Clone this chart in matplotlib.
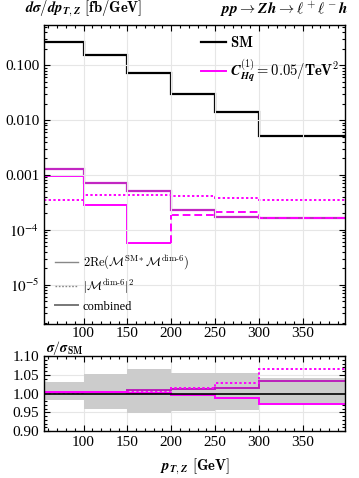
import numpy as np
import matplotlib.pyplot as plt
from matplotlib.lines import Line2D
from matplotlib.ticker import FixedLocator, MultipleLocator, LogLocator, NullFormatter

plt.rcParams['mathtext.fontset'] = 'stix'
plt.rcParams['font.family'] = 'serif'
plt.rcParams['font.serif'] = ['Liberation Serif', 'DejaVu Serif']

# bin edges in pT,Z [GeV]
edges = [55, 100, 150, 200, 250, 300, 400]

# main panel values [fb/GeV]
sm = [0.26, 0.152, 0.072, 0.030, 0.014, 0.0052]
interf_pos = [9.6e-4, 2.8e-4, 5.8e-5]          # bins 1-3 (positive)
interf_neg = [1.9e-4, 2.1e-4, 1.65e-4]          # bins 4-6 (|negative|)
squared = [3.5e-4, 4.25e-4, 4.4e-4, 4.2e-4, 3.86e-4, 3.44e-4]
combined = [1.31e-3, 7.1e-4, 5.0e-4, 2.26e-4, 1.73e-4, 1.66e-4]

# ratio panel values
band_up = [1.030, 1.052, 1.065, 1.055, 1.054, 1.041]
band_lo = [0.982, 0.960, 0.949, 0.953, 0.955, 0.971]
r_interf = [1.004, 1.003, 1.002, 0.996, 0.987, 0.971]
r_squared = [1.002, 1.003, 1.005, 1.015, 1.029, 1.065]
r_combined = [1.005, 1.005, 1.009, 1.011, 1.016, 1.034]

xticks = [100, 150, 200, 250, 300, 350]
ytick_vals = [1e-5, 1e-4, 1e-3, 1e-2, 1e-1]
ytick_labels = [r'$10^{-5}$', r'$10^{-4}$', '0.001', '0.010', '0.100']
rtick_vals = [0.90, 0.95, 1.00, 1.05, 1.10]

magenta = '#ff00ff'
purple = '#b800b8'

fig = plt.figure(figsize=(3.59, 4.78), dpi=100)
ax = fig.add_axes([0.1226, 0.322, 0.8384, 0.6257])
axr = fig.add_axes([0.1226, 0.0983, 0.8384, 0.1569])

# main panel
ax.stairs(sm, edges, baseline=None, color='black', lw=1.6)
ax.stairs(combined, edges, baseline=None, color=purple, lw=1.6, alpha=0.85)
ax.stairs(interf_pos, edges[:4], baseline=None, color=magenta, lw=1.4)
ax.vlines(edges[3], interf_pos[-1], interf_neg[0], color=magenta, lw=1.4, linestyles=(0, (4, 2)))
ax.stairs(interf_neg, edges[3:], baseline=None, color=magenta, lw=1.4, linestyle=(0, (4, 2)))
ax.stairs(squared, edges, baseline=None, color=magenta, lw=1.4, linestyle=(0, (1.2, 1.2)))

ax.set_yscale('log')
ax.set_xlim(55, 398)
ax.set_ylim(1.92e-6, 0.54)
ax.yaxis.set_major_locator(FixedLocator(ytick_vals))
ax.set_yticklabels(ytick_labels)
ax.yaxis.set_minor_locator(LogLocator(base=10, subs=np.arange(2, 10)))
ax.yaxis.set_minor_formatter(NullFormatter())
ax.set_xticks(xticks)
ax.set_xticklabels([str(v) for v in xticks])
ax.xaxis.set_minor_locator(MultipleLocator(10))
ax.grid(True, which='major', color='#e6e6e6', lw=0.8)

ax.text(-0.063, 1.02, r'$\boldsymbol{d\sigma/dp}_{\boldsymbol{T,Z}}\ \mathbf{[fb/GeV]}$', transform=ax.transAxes,
        fontsize=10.5, ha='left', va='bottom', math_fontfamily='cm')
ax.text(1.01, 1.02, r'$\boldsymbol{pp \to Zh \to \ell^+\ell^-h}$', transform=ax.transAxes,
        fontsize=11, ha='right', va='bottom', math_fontfamily='cm')

h1 = [Line2D([], [], color='black', lw=1.6), Line2D([], [], color=magenta, lw=1.4)]
leg1 = ax.legend(h1, [r'$\mathbf{SM}$',
                      r'$\boldsymbol{C}^{\mathbf{(1)}}_{\boldsymbol{Hq}} = \mathbf{0.05/TeV^2}$'],
                 loc='upper right', bbox_to_anchor=(1.025, 1.01), frameon=False,
                 handlelength=1.7, labelspacing=0.5, handletextpad=0.3,
                 prop={'size': 10.5, 'math_fontfamily': 'cm'})
ax.add_artist(leg1)

h2 = [Line2D([], [], color='#888888', lw=1.0),
      Line2D([], [], color='#888888', lw=1.0, linestyle=(0, (1.2, 1.2))),
      Line2D([], [], color='#777777', lw=1.4)]
ax.legend(h2, [r'$2\mathrm{Re}(\mathcal{M}^{\mathrm{SM}*}\mathcal{M}^{\mathrm{dim\text{-}6}})$',
               r'$|\mathcal{M}^{\mathrm{dim\text{-}6}}|^2$', 'combined'],
          loc='lower left', bbox_to_anchor=(0.0, 0.0), frameon=False,
          handlelength=1.8, labelspacing=0.4, handletextpad=0.4,
          prop={'size': 9, 'math_fontfamily': 'cm'})

# ratio panel
axr.stairs(band_up, edges, baseline=band_lo, fill=True, color='#cccccc', lw=0)
axr.axhline(1.0, color='black', lw=1.2)
axr.stairs(r_combined, edges, baseline=None, color=purple, lw=1.4, alpha=0.85)
axr.stairs(r_interf, edges, baseline=None, color=magenta, lw=1.4)
axr.stairs(r_squared, edges, baseline=None, color=magenta, lw=1.4, linestyle=(0, (1.2, 1.2)))
axr.set_xlim(55, 398)
axr.set_ylim(0.90, 1.10)
axr.set_yticks(rtick_vals)
axr.set_yticklabels(['%.2f' % v for v in rtick_vals])
axr.yaxis.set_minor_locator(MultipleLocator(0.01))
axr.set_xticks(xticks)
axr.set_xticklabels([str(v) for v in xticks])
axr.xaxis.set_minor_locator(MultipleLocator(10))
axr.grid(True, which='major', color='#e6e6e6', lw=0.8)
axr.set_axisbelow(True)
axr.text(0.005, 0.99, r'$\boldsymbol{\sigma/\sigma}_{\mathbf{SM}}$', transform=axr.transAxes,
         fontsize=10, ha='left', va='bottom', math_fontfamily='cm')
axr.set_xlabel(r'$\boldsymbol{p}_{\boldsymbol{T,Z}}\ \mathbf{[GeV]}$', fontsize=10.5, labelpad=6,
               math_fontfamily='cm')

for a in (ax, axr):
    a.tick_params(which='both', direction='in', top=True, right=True, labelsize=11, width=0.8)
    a.tick_params(which='major', length=4)
    a.tick_params(which='minor', length=2)
    for s in a.spines.values():
        s.set_linewidth(1.0)
ax.tick_params(axis='x', pad=2)

fig.savefig('out.png', dpi=100)
